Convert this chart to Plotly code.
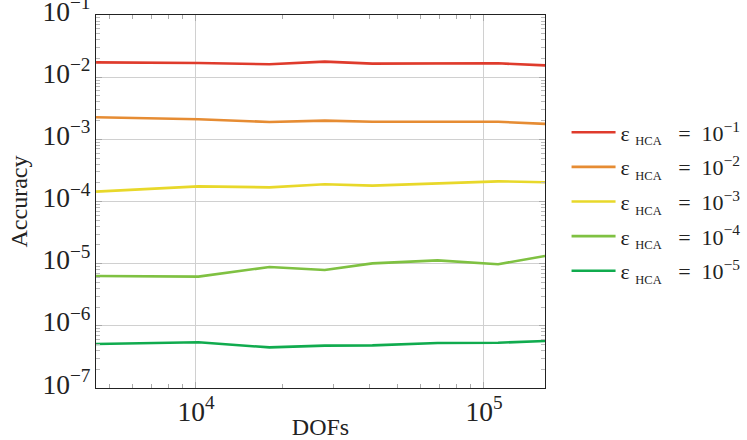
import plotly.graph_objects as go

dofs = [4500, 10200, 18000, 28000, 41000, 69000, 112000, 163000]

acc_e1 = [0.0173, 0.0169, 0.0161, 0.0178, 0.0165, 0.0165, 0.0167, 0.0155]
acc_e2 = [0.00226, 0.0021, 0.0019, 0.0020, 0.00192, 0.0019, 0.00192, 0.00177]
acc_e3 = [1.44e-4, 1.75e-4, 1.69e-4, 1.89e-4, 1.80e-4, 1.96e-4, 2.11e-4, 2.04e-4]
acc_e4 = [6.34e-6, 6.18e-6, 8.85e-6, 7.91e-6, 1.01e-5, 1.13e-5, 9.77e-6, 1.33e-5]
acc_e5 = [5.1e-7, 5.43e-7, 4.5e-7, 4.8e-7, 4.85e-7, 5.3e-7, 5.35e-7, 5.7e-7]

series = [acc_e1, acc_e2, acc_e3, acc_e4, acc_e5]
exponents = ["1", "2", "3", "4", "5"]
colors = ["#df3b2c", "#e68c33", "#e8d82a", "#7fc142", "#10ab4e"]

NB = "\u00a0"
fig = go.Figure()
for i, (vals, ex, c) in enumerate(zip(series, exponents, colors)):
    name = ("ε" + NB + "<sub><span style='font-size:12.5px'>HCA</span></sub>" + NB * 3 + "=" + NB * 2
            + "10<sup>−" + ex + "</sup>")
    fig.add_trace(go.Scatter(x=dofs, y=vals, mode="lines", name=name,
                             legendgroup="g%d" % i,
                             line=dict(color=c, width=2.6)))

font_family = "Liberation Serif, Times New Roman, serif"
fig.update_layout(
    width=747, height=440,
    margin=dict(l=96, r=202, t=15, b=52, autoexpand=False),
    paper_bgcolor="white", plot_bgcolor="white",
    font=dict(family=font_family, size=22, color="#222"),
    legend=dict(x=1.048, y=0.5, xanchor="left", yanchor="middle",
                font=dict(size=22, family=font_family, color="#222"),
                tracegroupgap=3, itemwidth=44,
                bgcolor="rgba(0,0,0,0)"),
    showlegend=True,
)
fig.update_xaxes(
    type="log", range=[3.653, 5.212], dtick=1,
    exponentformat="power", showexponent="all",
    ticks="inside", ticklen=6, tickcolor="#aaa",
    minor=dict(ticks="inside", ticklen=4, tickcolor="#aaa", showgrid=False),
    showgrid=True, gridcolor="#d0d0d0", gridwidth=1,
    showline=True, linecolor="#222", linewidth=1.2, mirror="allticks",
    zeroline=False, automargin=False, ticklabeloverflow="allow",
    tickfont=dict(size=22, family=font_family, color="#222"),
    title=dict(text="DOFs", font=dict(size=24, family=font_family, color="#222"), standoff=0),
)
fig.update_yaxes(
    type="log", range=[-7, -1], dtick=1,
    exponentformat="power", showexponent="all",
    ticks="inside", ticklen=6, tickcolor="#aaa",
    minor=dict(ticks="inside", ticklen=4, tickcolor="#bbb", showgrid=False),
    showgrid=True, gridcolor="#d0d0d0", gridwidth=1,
    showline=True, linecolor="#222", linewidth=1.2, mirror="allticks",
    zeroline=False, automargin=False, ticklabeloverflow="allow",
    ticklabelshift=-4,
    tickfont=dict(size=22, family=font_family, color="#222"),
    title=dict(text="Accuracy", font=dict(size=24, family=font_family, color="#222"), standoff=8),
)

fig.write_html("out.html", config={"displayModeBar": False},
               post_script="document.body.style.margin='0';")
